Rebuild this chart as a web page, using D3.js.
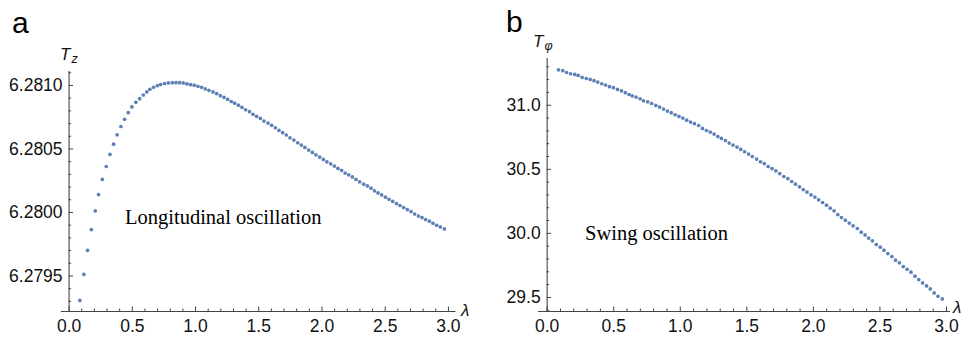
<!DOCTYPE html>
<html>
<head>
<meta charset="utf-8">
<script src="https://cdn.jsdelivr.net/npm/d3@7"></script>
<style>
body { margin: 0; background: #fff; }
svg { display: block; }
</style>
</head>
<body>
<script>
var w = 964;
var h = 338;

// lambda values (shared by both panels)
var lam = [0.089, 0.121, 0.150, 0.180, 0.211, 0.237, 0.267, 0.298, 0.327, 0.356,
0.384, 0.414, 0.443, 0.472, 0.501, 0.532, 0.562, 0.591, 0.619, 0.643,
0.672, 0.702, 0.728, 0.759, 0.789, 0.820, 0.849, 0.878, 0.907, 0.936,
0.965, 0.994, 1.023, 1.052, 1.081, 1.110, 1.142, 1.171, 1.200, 1.229,
1.258, 1.286, 1.313, 1.343, 1.371, 1.400, 1.430, 1.458, 1.487, 1.517,
1.545, 1.577, 1.606, 1.635, 1.664, 1.693, 1.722, 1.751, 1.782, 1.812,
1.841, 1.869, 1.899, 1.928, 1.956, 1.986, 2.015, 2.043, 2.073, 2.102,
2.130, 2.159, 2.187, 2.215, 2.244, 2.273, 2.302, 2.334, 2.363, 2.392,
2.419, 2.447, 2.476, 2.506, 2.534, 2.563, 2.593, 2.621, 2.650, 2.679,
2.708, 2.737, 2.767, 2.795, 2.824, 2.854, 2.882, 2.911, 2.940, 2.972];

// panel a : longitudinal period T_z
var tz = [6.279303, 6.279508, 6.279698, 6.279861, 6.280008, 6.280137, 6.280256, 6.280358, 6.280453, 6.280534,
6.280607, 6.280673, 6.280730, 6.280782, 6.280827, 6.280864, 6.280892, 6.280921, 6.280945, 6.280966,
6.280982, 6.280995, 6.281003, 6.281011, 6.281016, 6.281018, 6.281018, 6.281018, 6.281016, 6.281008,
6.281003, 6.280998, 6.280990, 6.280982, 6.280969, 6.280958, 6.280945, 6.280932, 6.280916, 6.280903,
6.280887, 6.280870, 6.280857, 6.280841, 6.280824, 6.280805, 6.280790, 6.280769, 6.280753, 6.280737,
6.280716, 6.280700, 6.280682, 6.280663, 6.280643, 6.280624, 6.280606, 6.280584, 6.280566, 6.280545,
6.280527, 6.280508, 6.280487, 6.280469, 6.280450, 6.280432, 6.280414, 6.280395, 6.280379, 6.280361,
6.280343, 6.280328, 6.280306, 6.280292, 6.280276, 6.280256, 6.280237, 6.280219, 6.280205, 6.280187,
6.280166, 6.280150, 6.280134, 6.280116, 6.280100, 6.280084, 6.280066, 6.280051, 6.280035, 6.280019,
6.280003, 6.279984, 6.279968, 6.279956, 6.279940, 6.279927, 6.279911, 6.279895, 6.279882, 6.279866];

// panel b : swing period T_phi
var tphi = [31.273, 31.266, 31.252, 31.242, 31.237, 31.229, 31.213, 31.205, 31.198, 31.188,
31.177, 31.164, 31.154, 31.141, 31.133, 31.120, 31.109, 31.094, 31.080, 31.070,
31.060, 31.047, 31.031, 31.023, 31.010, 30.995, 30.982, 30.966, 30.951, 30.938,
30.922, 30.909, 30.896, 30.880, 30.865, 30.852, 30.838, 30.815, 30.799, 30.787,
30.771, 30.752, 30.737, 30.721, 30.701, 30.685, 30.670, 30.651, 30.633, 30.615,
30.596, 30.576, 30.555, 30.541, 30.518, 30.502, 30.484, 30.463, 30.440, 30.424,
30.401, 30.380, 30.359, 30.338, 30.318, 30.297, 30.279, 30.258, 30.237, 30.216,
30.193, 30.172, 30.143, 30.120, 30.099, 30.076, 30.055, 30.034, 30.005, 29.984,
29.959, 29.938, 29.909, 29.888, 29.865, 29.838, 29.815, 29.787, 29.766, 29.737,
29.716, 29.693, 29.662, 29.635, 29.609, 29.586, 29.562, 29.531, 29.505, 29.484];

var xTicks = [0.0, 0.5, 1.0, 1.5, 2.0, 2.5, 3.0];
var xMinor = [0.1, 0.2, 0.3, 0.4, 0.6, 0.7, 0.8, 0.9, 1.1, 1.2, 1.3, 1.4, 1.6, 1.7, 1.8, 1.9,
2.1, 2.2, 2.3, 2.4, 2.6, 2.7, 2.8, 2.9];
var yTicksA = [6.2795, 6.2800, 6.2805, 6.2810];
var yMinorA = [6.2793, 6.2794, 6.2796, 6.2797, 6.2798, 6.2799, 6.2801, 6.2802, 6.2803, 6.2804,
6.2806, 6.2807, 6.2808, 6.2809, 6.2811];
var yTicksB = [29.5, 30.0, 30.5, 31.0];
var yMinorB = [29.4, 29.6, 29.7, 29.8, 29.9, 30.1, 30.2, 30.3, 30.4, 30.6, 30.7, 30.8, 30.9,
31.1, 31.2, 31.3];

var dotColor = "#5e81b5";
var axisColor = "#444";

var svg = d3.select("body")
.append("svg")
.attr("width", w)
.attr("height", h);

function panel(opt) {
	var g = svg.append("g");
	var x = d3.scaleLinear().domain(opt.xDom).range(opt.xRange);
	var y = d3.scaleLinear().domain(opt.yDom).range(opt.yRange);
	var y0 = opt.yRange[0];
	var x0 = x(0);

	// minor ticks
	g.append("g")
	.attr("transform", "translate(0," + y0 + ")")
	.call(d3.axisBottom(x).tickValues(xMinor).tickSize(-2.5).tickFormat(""))
	.call(function(s){ s.select(".domain").remove(); });
	g.append("g")
	.attr("transform", "translate(" + x0 + ",0)")
	.call(d3.axisLeft(y).tickValues(opt.yMinor).tickSize(-2.5).tickFormat(""))
	.call(function(s){ s.select(".domain").remove(); });

	// major ticks
	var xa = g.append("g")
	.attr("transform", "translate(0," + y0 + ")")
	.call(d3.axisBottom(x).tickValues(xTicks).tickSize(-4.5).tickPadding(9).tickFormat(d3.format(".1f")));
	xa.select(".domain").remove();
	var ya = g.append("g")
	.attr("transform", "translate(" + x0 + ",0)")
	.call(d3.axisLeft(y).tickValues(opt.yTicks).tickSize(-4.5).tickPadding(6).tickFormat(d3.format(opt.fmt)));
	ya.select(".domain").remove();

	g.selectAll(".tick line").attr("stroke", axisColor);
	g.selectAll(".tick text")
	.attr("font-family", "Liberation Sans, Arial, sans-serif")
	.attr("font-size", "17.5px")
	.attr("fill", "#111");

	// axis lines
	g.append("line")
	.attr("x1", opt.xRange[0]).attr("x2", opt.xRange[1])
	.attr("y1", y0 + 0.5).attr("y2", y0 + 0.5)
	.attr("stroke", axisColor).attr("stroke-width", 1.1);
	g.append("line")
	.attr("x1", x0 + 0.5).attr("x2", x0 + 0.5)
	.attr("y1", opt.yRange[0]).attr("y2", opt.yRange[1])
	.attr("stroke", axisColor).attr("stroke-width", 1.1);

	// points
	g.selectAll("circle")
	.data(opt.values)
	.enter()
	.append("circle")
	.attr("cx", function(d, i) { return x(lam[i]); })
	.attr("cy", function(d) { return y(d); })
	.attr("r", 1.85)
	.attr("fill", dotColor);

	// panel letter
	g.append("text")
	.text(opt.letter)
	.attr("x", opt.letterX).attr("y", opt.letterY)
	.attr("font-family", "Liberation Sans, Arial, sans-serif")
	.attr("font-size", "30px")
	.attr("fill", "#000");

	// y axis label T with subscript
	var yl = g.append("text")
	.attr("x", opt.ylabX).attr("y", opt.ylabY)
	.attr("font-family", "Liberation Sans, Arial, sans-serif")
	.attr("font-style", "italic")
	.attr("font-size", "17px")
	.attr("fill", "#111");
	yl.append("tspan").text("T");
	yl.append("tspan").text(opt.sub).attr("font-size", "12.5px").attr("dx", "1").attr("dy", "3");

	// x axis label
	g.append("text")
	.text("λ")
	.attr("x", opt.xlabX).attr("y", opt.xlabY)
	.attr("font-family", "Liberation Sans, Arial, sans-serif")
	.attr("font-style", "italic")
	.attr("font-size", "17px")
	.attr("fill", "#111");

	// annotation
	g.append("text")
	.text(opt.note)
	.attr("x", opt.noteX).attr("y", opt.noteY)
	.attr("font-family", "Liberation Serif, Times New Roman, serif")
	.attr("font-size", "20.5px")
	.attr("fill", "#000");
}

panel({
	xDom: [-0.06, 3.06], xRange: [61, 455.5],
	yDom: [6.27922, 6.28111], yRange: [311, 71],
	yTicks: yTicksA, yMinor: yMinorA, fmt: ".4f",
	values: tz,
	letter: "a", letterX: 12, letterY: 33,
	sub: "z", ylabX: 60, ylabY: 60,
	xlabX: 461, xlabY: 316,
	note: "Longitudinal oscillation", noteX: 125, noteY: 224
});

panel({
	xDom: [-0.065, 3.03], xRange: [538, 950],
	yDom: [29.39, 31.365], yRange: [311, 58],
	yTicks: yTicksB, yMinor: yMinorB, fmt: ".1f",
	values: tphi,
	letter: "b", letterX: 506, letterY: 32,
	sub: "φ", ylabX: 533, ylabY: 47,
	xlabX: 953, xlabY: 313,
	note: "Swing oscillation", noteX: 585, noteY: 240
});
</script>
</body>
</html>
